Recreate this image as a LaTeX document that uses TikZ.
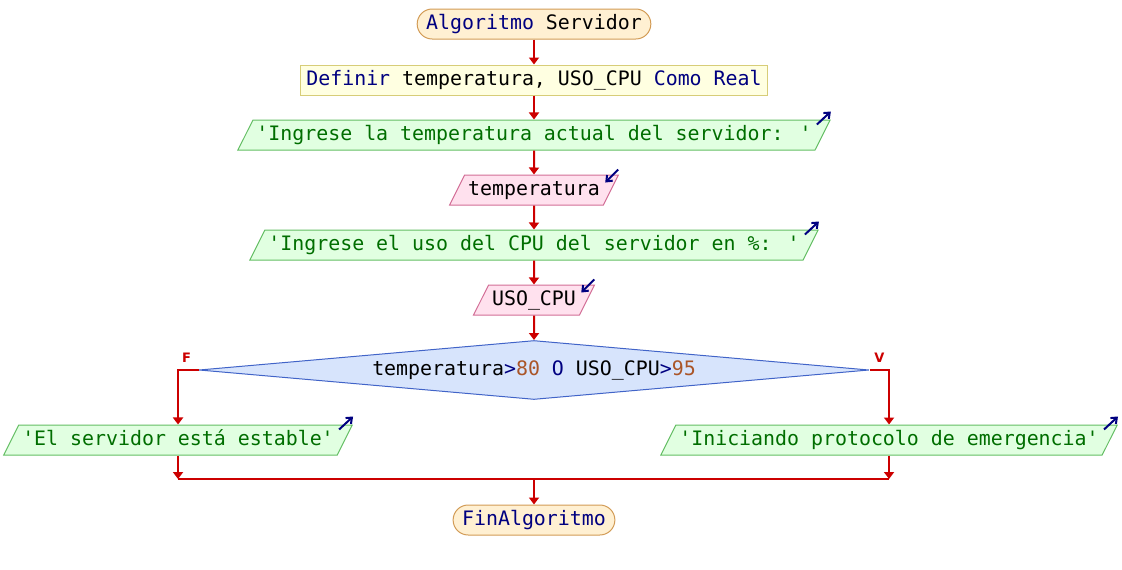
\documentclass[tikz,border=0pt]{standalone}
\usepackage{fontspec}
\newfontfamily\mono{DejaVu Sans Mono}
\newfontfamily\sans{DejaVu Sans}
\usetikzlibrary{shapes.geometric,arrows.meta,calc}

\definecolor{rojo}{RGB}{204,0,0}
\definecolor{azul}{RGB}{0,0,128}
\definecolor{verde}{RGB}{0,110,0}
\definecolor{marron}{RGB}{170,85,40}
\definecolor{fondoterm}{RGB}{255,240,210}
\definecolor{bordeterm}{RGB}{210,155,85}
\definecolor{fondodef}{RGB}{255,255,225}
\definecolor{bordedef}{RGB}{215,205,120}
\definecolor{fondosal}{RGB}{225,255,225}
\definecolor{bordesal}{RGB}{100,190,100}
\definecolor{fondoent}{RGB}{255,225,238}
\definecolor{bordeent}{RGB}{210,110,150}
\definecolor{fondodec}{RGB}{215,228,252}
\definecolor{bordedec}{RGB}{65,100,200}

\newcommand{\clave}[1]{\textcolor{azul}{#1}}
\newcommand{\cadena}[1]{\textcolor{verde}{\textquotesingle#1\textquotesingle}}
\newcommand{\numero}[1]{\textcolor{marron}{#1}}

\tikzset{
  base/.style={font=\mono\fontsize{19.9}{22}\selectfont, text height=14pt, text depth=4pt, inner ysep=6pt, line width=1pt},
  terminal/.style={base, rectangle, rounded corners=15pt, draw=bordeterm, fill=fondoterm, inner xsep=9pt},
  definicion/.style={base, rectangle, draw=bordedef, fill=fondodef, inner xsep=6pt},
  salida/.style={base, trapezium, trapezium left angle=63.4, trapezium right angle=116.6, draw=bordesal, fill=fondosal, inner xsep=3.5pt},
  entrada/.style={base, trapezium, trapezium left angle=63.4, trapezium right angle=116.6, draw=bordeent, fill=fondoent, inner xsep=3.5pt},
  decision/.style={base, diamond, aspect=11.36, draw=bordedec, fill=fondodec, minimum width=670pt, minimum height=59pt, inner sep=0pt},
  flecha/.style={draw=rojo, line width=2pt, -{Triangle[width=10pt,length=7pt]}},
  linea/.style={draw=rojo, line width=2pt},
  icono/.style={draw=azul, line width=2pt, -{Straight Barb[length=5pt,width=8pt]}},
  rotulo/.style={text=rojo, font=\sans\bfseries\fontsize{13}{13}\selectfont, inner sep=0pt}
}

\begin{document}
\begin{tikzpicture}[x=1pt,y=-1pt]
  \useasboundingbox (0,0) rectangle (1122,570);

  % Inicio del algoritmo
  \node (inicio) [terminal] at (534,24) {\clave{Algoritmo} Servidor};

  % Definicion de variables
  \node (definir) [definicion] at (534,80) {\clave{Definir} temperatura, USO\_CPU \clave{Como Real}};

  % Lectura de la temperatura
  \node (sal1) [salida] at (534,135) {\cadena{Ingrese la temperatura actual del servidor: }};
  \node (ent1) [entrada] at (534,190) {temperatura};

  % Lectura del uso de CPU
  \node (sal2) [salida] at (534,245) {\cadena{Ingrese el uso del CPU del servidor en \%: }};
  \node (ent2) [entrada] at (534,300) {USO\_CPU};

  % Condicion
  \node (cond) [decision] at (534,370) {temperatura\clave{>}\numero{80} \clave{O} USO\_CPU\clave{>}\numero{95}};

  % Ramas falsa y verdadera
  \node (salF) [salida] at (178,440) {\cadena{El servidor está estable}};
  \node (salV) [salida] at (889,440) {\cadena{Iniciando protocolo de emergencia}};
  \node (lblF) [rotulo] at ($(cond.west)+(-12,-12)$) {F};
  \node (lblV) [rotulo] at ($(cond.east)+(10,-12)$) {V};

  % Fin del algoritmo
  \node (fin) [terminal] at (534,520) {\clave{FinAlgoritmo}};
  \coordinate (union) at (534,479);

  % Conectores
  \draw[flecha] (inicio) -- (definir);
  \draw[flecha] (definir) -- (sal1);
  \draw[flecha] (sal1) -- (ent1);
  \draw[flecha] (ent1) -- (sal2);
  \draw[flecha] (sal2) -- (ent2);
  \draw[flecha] (ent2) -- (cond);
  \draw[flecha] (cond.west) -| (salF.north);
  \draw[flecha] (cond.east) -| (salV.north);
  \draw[flecha] (salF.south) -- (salF.south |- union);
  \draw[flecha] (salV.south) -- (salV.south |- union);
  \draw[linea] (salF.south |- union) -- (salV.south |- union);
  \draw[flecha] (union) -- (fin);

  % Iconos de entrada y salida
  \draw[icono] ($(sal1.top right corner)+(-14,5)$) -- ++(14,-13);
  \draw[icono] ($(sal2.top right corner)+(-14,5)$) -- ++(14,-13);
  \draw[icono] ($(salF.top right corner)+(-14,5)$) -- ++(14,-13);
  \draw[icono] ($(salV.top right corner)+(-14,5)$) -- ++(14,-13);
  \draw[icono] ($(ent1.top right corner)+(-1,-5)$) -- ++(-13,13);
  \draw[icono] ($(ent2.top right corner)+(-1,-5)$) -- ++(-13,13);
\end{tikzpicture}
\end{document}
